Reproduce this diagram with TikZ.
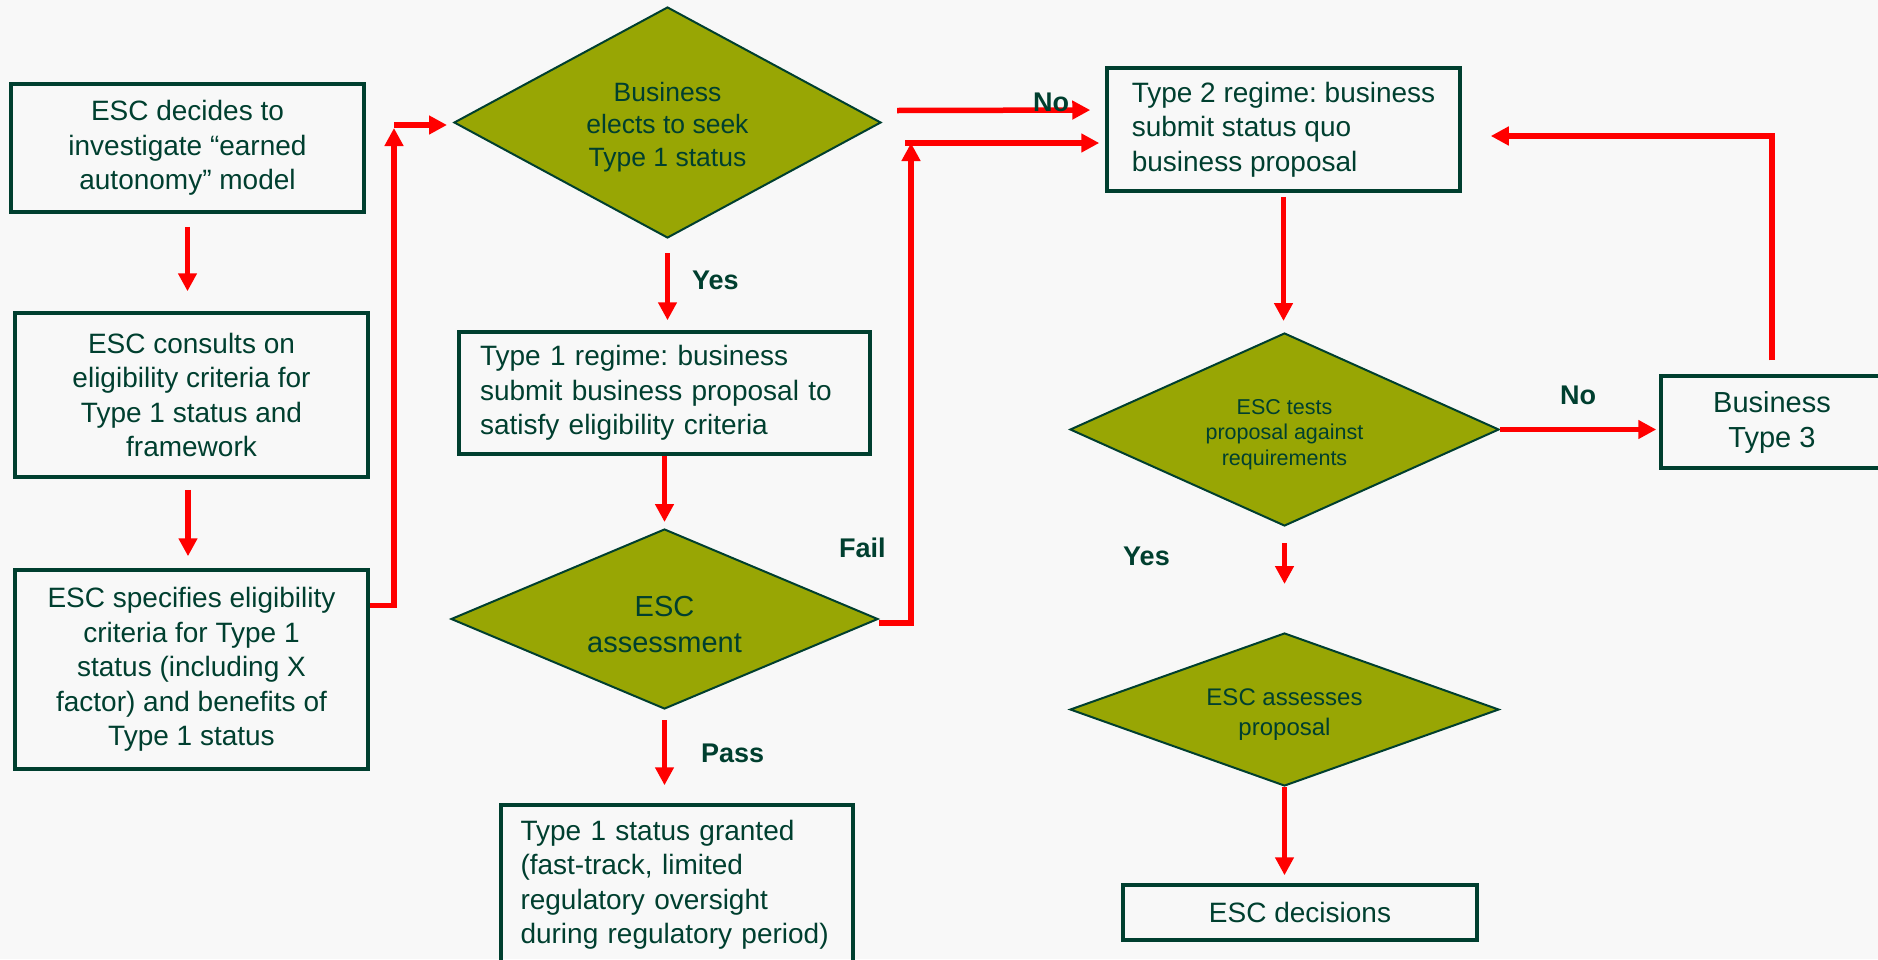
\documentclass[tikz,border=0pt]{standalone}
\usepackage{fontspec}
\setmainfont{Liberation Sans}
\usetikzlibrary{shapes.geometric,arrows.meta}
\definecolor{bg}{HTML}{F8F8F8}
\definecolor{dg}{HTML}{003F2F}
\definecolor{olive}{HTML}{98A604}
\definecolor{rd}{HTML}{FF0000}
\newcommand{\dstrut}{\rule{0pt}{1.05em}}
\begin{document}
\frenchspacing
\begin{tikzpicture}[x=1pt,y=-1pt,
  box/.style={draw=dg, line width=3.5pt, text=dg, inner sep=0pt, font=\fontsize{28}{34.5}\selectfont},
  dia/.style={diamond, draw=dg, line width=2pt, fill=olive, text=dg, inner sep=0pt},
  arr/.style={draw=rd, line width=5.5pt, -{Triangle[width=18pt,length=18pt]}},
  lab/.style={text=dg, font=\bfseries\fontsize{27}{32}\selectfont, anchor=west, inner sep=0pt}]

\path[fill=bg] (0,0) rectangle (1878,959);
\useasboundingbox (0,0) rectangle (1878,959);

% boxes
\node[box, minimum width=353pt, minimum height=128pt, align=center] (A) at (187.5,148)
  {ESC decides to\\investigate “earned\\autonomy” model};
\node[box, minimum width=353pt, minimum height=164pt, align=center] (B) at (191.5,395)
  {ESC consults on\\eligibility criteria for\\Type 1 status and\\framework};
\node[box, minimum width=353pt, minimum height=199pt, align=center] (C) at (191.5,669.5)
  {ESC specifies eligibility\\criteria for Type 1\\status (including X\\factor) and benefits of\\Type 1 status};
\node[box, minimum width=411pt, minimum height=122pt, text width=369pt, align=left] (T1) at (664.5,393)
  {Type 1 regime: business\\submit business proposal to\\satisfy eligibility criteria};
\node[box, minimum width=352pt, minimum height=159pt, text width=313pt, align=left] (G) at (677,884.5)
  {Type 1 status granted\\(fast-track, limited\\regulatory oversight\\during regulatory period)};
\node[box, minimum width=353pt, minimum height=123pt, align=left] (T2) at (1283.5,129.5)
  {Type 2 regime: business\\submit status quo\\business proposal};
\node[box, minimum width=222pt, minimum height=92pt, align=center, font=\fontsize{29}{35}\selectfont] (T3) at (1772,422)
  {Business\\Type 3};
\node[box, minimum width=354pt, minimum height=55pt] (E) at (1300,912.5) {ESC decisions};

% diamonds
\node[dia, minimum width=427pt, minimum height=231pt, shape aspect=1.85, align=center,
  font=\fontsize{26.5}{32.5}\selectfont] (D1) at (667.5,122.5)
  {\dstrut Business\\elects to seek\\Type 1 status};
\node[dia, minimum width=427pt, minimum height=180pt, shape aspect=2.37, align=center,
  font=\fontsize{29}{36}\selectfont] (D2) at (664.5,619)
  {\dstrut ESC\\assessment};
\node[dia, minimum width=429pt, minimum height=193pt, shape aspect=2.22, align=center,
  font=\fontsize{21.5}{25.5}\selectfont] (D3) at (1284.5,429.5)
  {\rule{0pt}{1.15em}ESC tests\\proposal against\\requirements};
\node[dia, minimum width=429pt, minimum height=153pt, shape aspect=2.8, align=center,
  font=\fontsize{24}{30}\selectfont] (D4) at (1284.5,709.5)
  {\rule{0pt}{1.1em}ESC assesses\\proposal};

% junction points
\coordinate (j1) at (394,125);
\coordinate (j2) at (911,143);

% connectors
\draw[arr, shorten <=13pt, shorten >=20pt] (A.south) -- (A.south |- B.north);
\draw[arr, shorten <=11pt, shorten >=12pt] ([xshift=-3.5pt]B.south) -- ([xshift=-3.5pt]B.south |- C.north);
\draw[arr] ([yshift=-37pt]C.north east) -| ([yshift=-3pt]j1);
\draw[arr, shorten >=6pt] (j1) -- (j1 -| D1.west);
\draw[arr, shorten <=14pt, shorten >=10pt] (D1.south) -- (D1.south |- T1.north);
\draw[arr, shorten >=6pt] (T1.south) -- (T1.south |- D2.north);
\draw[arr, shorten <=10pt, shorten >=18pt] (D2.south) -- (D2.south |- G.north);
\draw[arr] ([yshift=-4pt]D2.east) -| (j2);
\draw[arr, shorten >=6pt] ([xshift=-6pt]j2) -- (j2 -| T2.west);
\draw[arr, shorten >=15pt] ([xshift=15pt,yshift=12pt]D1.east) -- ([yshift=19.5pt]T2.west);
\draw[arr, shorten <=4pt, shorten >=11pt] (T2.south) -- (T2.south |- D3.north);
\draw[arr, shorten >=3pt] (D3.east) -- (D3.east -| T3.west);
\draw[arr, shorten <=14pt, shorten >=29pt] (T3.north) |- ([yshift=-6.5pt]T2.east);
\draw[arr, shorten <=16pt, shorten >=48pt] (D3.south) -- (D4.north);
\draw[arr, shorten >=8pt] (D4.south) -- (D4.south |- E.north);

% labels
\node[lab] (lyes1) at (692,280) {Yes};
\node[lab] (lpass) at (701,753) {Pass};
\node[lab] (lfail) at (839,548) {Fail};
\node[lab] (lno1) at (1033,102) {No};
\node[lab] (lno2) at (1560,395) {No};
\node[lab] (lyes2) at (1123,556) {Yes};
\end{tikzpicture}
\end{document}
